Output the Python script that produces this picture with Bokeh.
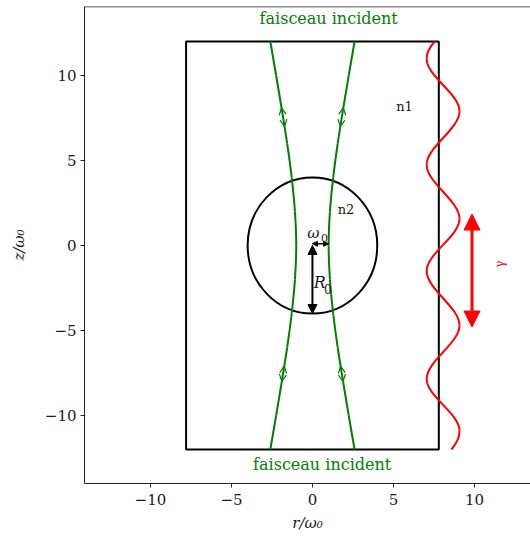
import numpy as np
from bokeh.plotting import figure
from bokeh.models import Range1d, Label, Arrow, NormalHead, OpenHead, ColumnDataSource, Span
from bokeh.embed import file_html
from bokeh.resources import INLINE

# ---------------- data ----------------
x_ticks = [-10, -5, 0, 5, 10]
x_tick_labels = ["\u221210", "\u22125", "0", "5", "10"]
y_ticks = [-10, -5, 0, 5, 10]
y_tick_labels = ["\u221210", "\u22125", "0", "5", "10"]

box_r = [-7.8, 7.8]          # medium n1 box, r extent
box_z = [-12.0, 12.0]        # medium n1 box, z extent
sphere_R0 = 4.0              # sphere radius R0
waist_w0 = 1.0               # beam waist w0

beam_z = [-12, -10, -8, -6, -4, -2, 0, 2, 4, 6, 8, 10, 12]
beam_r = [2.60, 2.24, 1.89, 1.56, 1.28, 1.08, 1.00, 1.08, 1.28, 1.56, 1.89, 2.24, 2.60]

chevron_z = [8.1, 7.0, -7.1, -8.0]
chevron_dir = [1, -1, 1, -1]   # 1 = pointing up, -1 = pointing down

wave_z = [12.0, 10.98, 7.9, 4.75, 1.57, -1.5, -4.7, -7.85, -10.9, -12.0]
wave_r = [7.55, 7.05, 9.08, 7.05, 9.08, 7.05, 9.08, 7.05, 9.08, 8.58]

pol_r = 9.85
pol_z = [-4.8, 1.85]

# ---------------- helpers ----------------
def hermite_bezier(r, z):
    r = np.asarray(r, float)
    z = np.asarray(z, float)
    n = len(z)
    m = np.zeros(n)
    for i in range(1, n - 1):
        if (r[i] - r[i - 1]) * (r[i + 1] - r[i]) <= 0:
            m[i] = 0.0
        else:
            m[i] = (r[i + 1] - r[i - 1]) / (z[i + 1] - z[i - 1])
    m[0] = 2 * (r[1] - r[0]) / (z[1] - z[0]) - m[1]
    m[-1] = 2 * (r[-1] - r[-2]) / (z[-1] - z[-2]) - m[-2]
    h = np.diff(z)
    return dict(x0=r[:-1], y0=z[:-1], x1=r[1:], y1=z[1:],
                cx0=r[:-1] + m[:-1] * h / 3, cy0=z[:-1] + h / 3,
                cx1=r[1:] - m[1:] * h / 3, cy1=z[1:] - h / 3)

FONT = "DejaVu Serif"
GREEN = "#008000"
TXT = "#1a1a1a"

p = figure(width=530, height=541,
           x_range=Range1d(-14.07, 13.46), y_range=Range1d(-14.0, 14.06),
           output_backend="svg", toolbar_location=None,
           min_border_left=84, min_border_right=0, min_border_top=6, min_border_bottom=58)
p.grid.visible = False
p.outline_line_color = None
p.background_fill_color = "white"
p.border_fill_color = "white"

for ax, ticks, labels in ((p.xaxis[0], x_ticks, x_tick_labels), (p.yaxis[0], y_ticks, y_tick_labels)):
    ax.ticker = ticks
    ax.major_label_overrides = {t: l for t, l in zip(ticks, labels)}
    ax.major_tick_in = 0
    ax.major_tick_out = 4
    ax.minor_tick_line_color = None
    ax.axis_line_color = "#222222"
    ax.major_tick_line_color = "#222222"
    ax.major_label_text_font = FONT
    ax.major_label_text_font_size = "15px"
    ax.major_label_text_color = TXT
    ax.axis_label_text_font = FONT
    ax.axis_label_text_font_size = "15px"
    ax.axis_label_text_font_style = "italic"
    ax.axis_label_text_color = TXT
p.xaxis.axis_label = "r/\u03c9\u2080"
p.yaxis.axis_label = "z/\u03c9\u2080"
p.xaxis.major_label_standoff = 6
p.yaxis.major_label_standoff = 4
p.xaxis.axis_label_standoff = 6
p.yaxis.axis_label_standoff = 14

# top spine only (right spine lies outside the visible area)
p.add_layout(Span(location=p.y_range.end, dimension="width",
                  line_color="#222222", line_width=1.5))

# box (medium n1)
p.quad(left=[box_r[0]], right=[box_r[1]], bottom=[box_z[0]], top=[box_z[1]],
       fill_color=None, line_color="black", line_width=2)

# sphere (medium n2)
p.ellipse(x=[0], y=[0], width=[2 * sphere_R0], height=[2 * sphere_R0],
          fill_color=None, line_color="black", line_width=2)

# gaussian beam envelope
right = hermite_bezier(beam_r, beam_z)
left = hermite_bezier([-v for v in beam_r], beam_z)
for seg in (right, left):
    p.bezier(source=ColumnDataSource(seg), x0="x0", y0="y0", x1="x1", y1="y1",
             cx0="cx0", cy0="cy0", cx1="cx1", cy1="cy1", line_color=GREEN, line_width=2)

# chevrons on the beam
bz = np.asarray(beam_z, float)
br = np.asarray(beam_r, float)
slope = np.gradient(br, bz)
xs0, ys0, xs1, ys1 = [], [], [], []
for zc, d in zip(chevron_z, chevron_dir):
    rc = np.interp(zc, bz, br)
    sc = np.interp(zc, bz, slope)
    dz = 0.4 * d
    for sign in (1, -1):
        xs1.append(sign * rc)
        ys1.append(zc)
        xs0.append(sign * (rc - sc * dz))
        ys0.append(zc - dz)
chev_src = ColumnDataSource(dict(x0=xs0, y0=ys0, x1=xs1, y1=ys1))
p.add_layout(Arrow(source=chev_src, x_start="x0", y_start="y0", x_end="x1", y_end="y1",
                   line_alpha=0, start=None,
                   end=OpenHead(size=7, line_color=GREEN, line_width=1.2)))

# polarisation wave
wave = hermite_bezier(wave_r, wave_z)
p.bezier(source=ColumnDataSource(wave), x0="x0", y0="y0", x1="x1", y1="y1",
         cx0="cx0", cy0="cy0", cx1="cx1", cy1="cy1", line_color="red", line_width=2)

# polarisation double arrow
p.add_layout(Arrow(x_start=pol_r, y_start=pol_z[0], x_end=pol_r, y_end=pol_z[1],
                   line_color="red", line_width=3,
                   start=NormalHead(size=16, fill_color="red", line_color="red"),
                   end=NormalHead(size=16, fill_color="red", line_color="red")))

# R0 arrow
p.add_layout(Arrow(x_start=0, y_start=0, x_end=0, y_end=-sphere_R0,
                   line_color="black", line_width=2,
                   start=NormalHead(size=9, fill_color="black", line_color="black"),
                   end=NormalHead(size=9, fill_color="black", line_color="black")))
# w0 arrow
p.add_layout(Arrow(x_start=0, y_start=0.1, x_end=waist_w0, y_end=0.1,
                   line_color="black", line_width=1.5,
                   start=NormalHead(size=5, fill_color="black", line_color="black"),
                   end=NormalHead(size=5, fill_color="black", line_color="black")))

def lab(x, y, text, size, color=TXT, style="normal", align="center", angle=0.0):
    p.add_layout(Label(x=x, y=y, text=text, text_font=FONT, text_font_size=size,
                       text_color=color, text_font_style=style, text_align=align,
                       text_baseline="middle", angle=angle))

lab(1.0, 13.35, "faisceau incident", "16px", color=GREEN)
lab(0.6, -12.9, "faisceau incident", "16px", color=GREEN)
lab(5.68, 8.2, "n1", "13px")
lab(2.07, 2.1, "n2", "13px")
lab(0.08, -2.16, "R", "16px", style="italic", align="left")
lab(0.95, -2.55, "0", "12px", align="center")
lab(0.05, 0.75, "\u03c9", "15px", style="italic")
lab(0.75, 0.45, "0", "11px", align="center")
lab(11.6, -1.1, "\u03b3", "12px", color="red", angle=np.pi / 2)

open("out.html", "w").write(file_html(p, INLINE))
